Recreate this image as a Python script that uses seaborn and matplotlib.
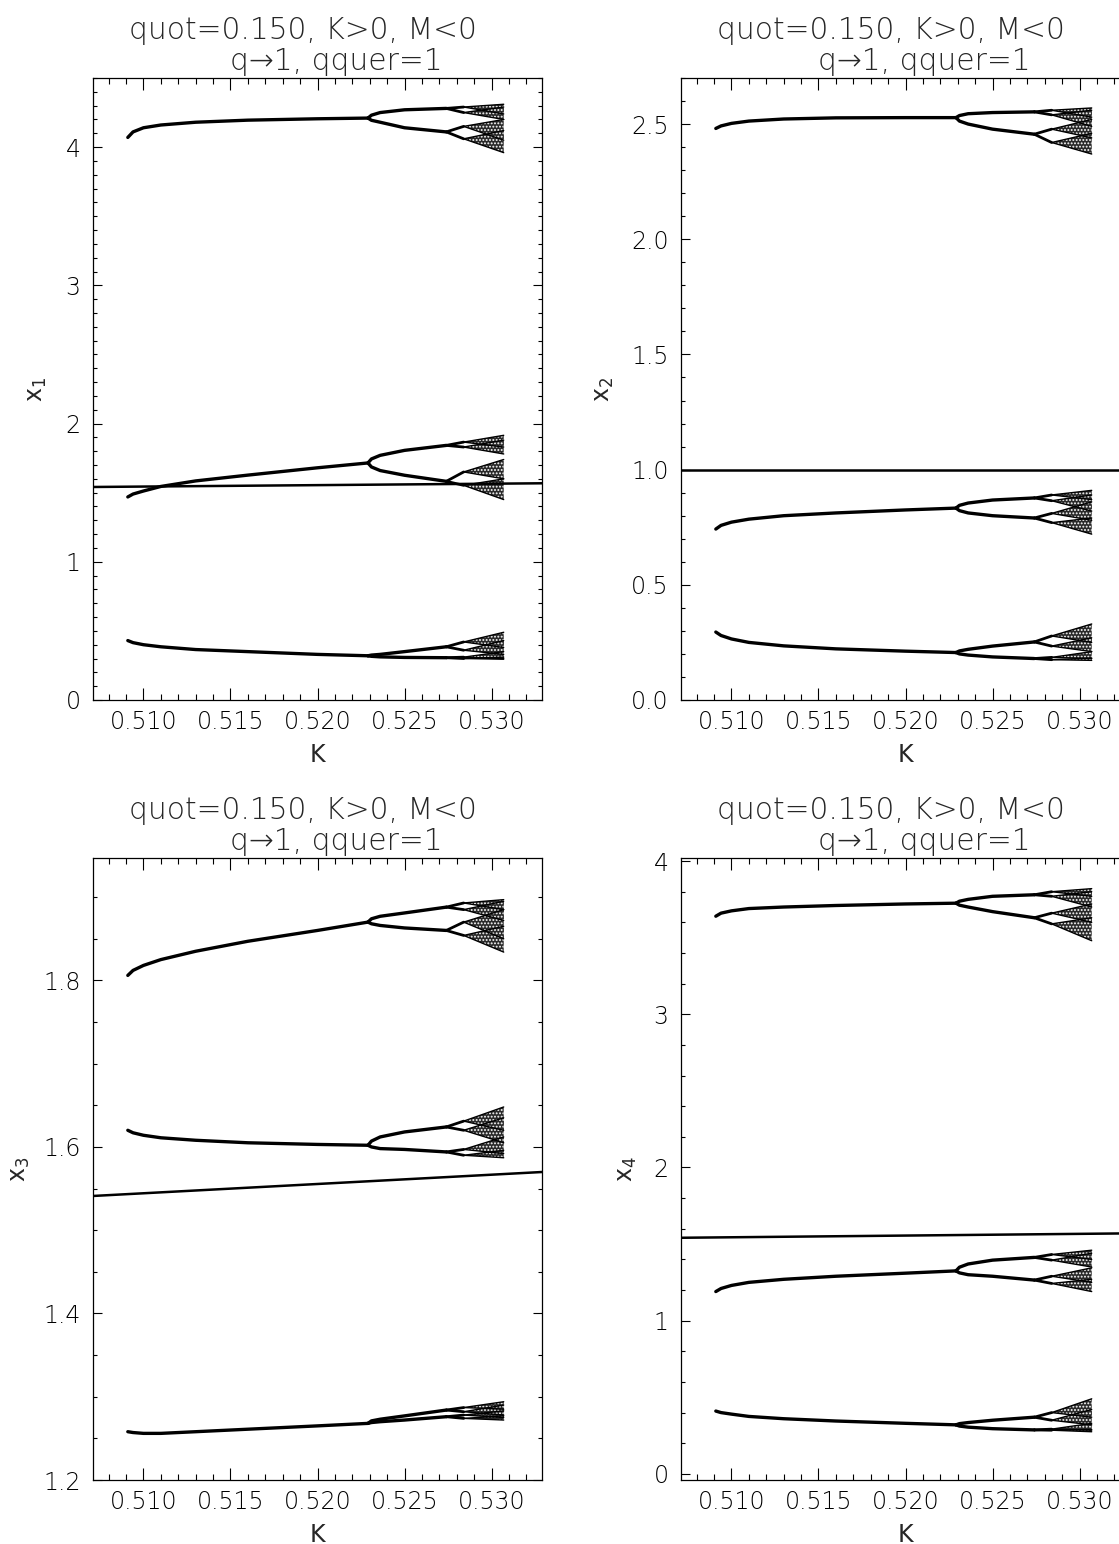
import matplotlib
matplotlib.use('Agg')
import matplotlib.pyplot as plt
from matplotlib.ticker import MultipleLocator, FormatStrFormatter
import seaborn as sns

K_P1 = [0.5091, 0.5094, 0.5100, 0.5110, 0.5130, 0.5160, 0.5200, 0.5229]
K_P2 = [0.5229, 0.5231, 0.5236, 0.5250, 0.5274]
K_P4 = [0.5274, 0.5284]
K_CHAOS = [0.5284, 0.5307]
K_LINE = [0.5070, 0.5330]

TITLE_1 = 'quot=0.150, K>0, M<0'
TITLE_2 = 'q\u21921, qquer=1'

# ---- x1 ----
X1_P1 = [[4.07, 4.11, 4.14, 4.16, 4.18, 4.195, 4.205, 4.21],
         [1.469, 1.49, 1.512, 1.545, 1.585, 1.627, 1.68, 1.715],
         [0.43, 0.415, 0.40, 0.385, 0.365, 0.35, 0.33, 0.32]]
X1_P2_UP = [[4.21, 4.231, 4.25, 4.27, 4.28], [1.715, 1.744, 1.77, 1.806, 1.842],
            [0.32, 0.325, 0.33, 0.35, 0.385]]
X1_P2_LO = [[4.21, 4.194, 4.18, 4.14, 4.11], [1.715, 1.686, 1.66, 1.626, 1.582],
            [0.32, 0.316, 0.312, 0.308, 0.306]]
X1_P4 = [[4.29, 4.25, 4.15, 4.06], [1.866, 1.83, 1.65, 1.553], [0.42, 0.36, 0.31, 0.30]]
X1_BAND_LO = [[4.24, 4.20, 4.05, 3.96], [1.83, 1.78, 1.60, 1.45], [0.38, 0.33, 0.30, 0.295]]
X1_BAND_HI = [[4.31, 4.29, 4.20, 4.12], [1.915, 1.88, 1.74, 1.60], [0.49, 0.43, 0.35, 0.31]]
X1_LINE = [1.541, 1.568]

# ---- x2 ----
X2_P1 = [[2.481, 2.492, 2.503, 2.513, 2.522, 2.527, 2.528, 2.528],
         [0.742, 0.758, 0.772, 0.785, 0.80, 0.812, 0.825, 0.833],
         [0.295, 0.28, 0.265, 0.25, 0.235, 0.222, 0.212, 0.206]]
X2_P2_UP = [[2.528, 2.537, 2.545, 2.55, 2.553], [0.833, 0.845, 0.855, 0.868, 0.877],
            [0.206, 0.213, 0.22, 0.234, 0.252]]
X2_P2_LO = [[2.528, 2.513, 2.50, 2.478, 2.456], [0.833, 0.822, 0.812, 0.80, 0.79],
            [0.206, 0.200, 0.195, 0.187, 0.18]]
X2_P4 = [[2.56, 2.54, 2.478, 2.42], [0.89, 0.865, 0.81, 0.77], [0.278, 0.234, 0.185, 0.175]]
X2_BAND_LO = [[2.53, 2.49, 2.44, 2.37], [0.87, 0.82, 0.78, 0.72], [0.25, 0.21, 0.18, 0.172]]
X2_BAND_HI = [[2.57, 2.56, 2.52, 2.46], [0.91, 0.89, 0.86, 0.79], [0.33, 0.27, 0.21, 0.182]]
X2_LINE = [1.0, 1.0]

# ---- x3 ----
X3_P1 = [[1.806, 1.812, 1.818, 1.825, 1.835, 1.847, 1.86, 1.87],
         [1.620, 1.617, 1.614, 1.611, 1.608, 1.605, 1.603, 1.602],
         [1.258, 1.257, 1.256, 1.256, 1.258, 1.261, 1.265, 1.268]]
X3_P2_UP = [[1.87, 1.874, 1.877, 1.881, 1.888], [1.602, 1.607, 1.612, 1.618, 1.624],
            [1.268, 1.271, 1.273, 1.277, 1.284]]
X3_P2_LO = [[1.87, 1.868, 1.866, 1.863, 1.86], [1.602, 1.600, 1.598, 1.597, 1.594],
            [1.268, 1.269, 1.27, 1.272, 1.276]]
X3_P4 = [[1.893, 1.885, 1.87, 1.854], [1.631, 1.62, 1.597, 1.59], [1.287, 1.282, 1.278, 1.274]]
X3_BAND_LO = [[1.885, 1.872, 1.85, 1.834], [1.62, 1.605, 1.592, 1.587], [1.285, 1.278, 1.275, 1.272]]
X3_BAND_HI = [[1.897, 1.895, 1.885, 1.865], [1.648, 1.635, 1.612, 1.596], [1.294, 1.29, 1.283, 1.277]]
X3_LINE = [1.541, 1.570]

# ---- x4 ----
X4_P1 = [[3.64, 3.66, 3.675, 3.69, 3.70, 3.71, 3.72, 3.725],
         [1.19, 1.21, 1.23, 1.25, 1.27, 1.29, 1.31, 1.325],
         [0.41, 0.40, 0.39, 0.375, 0.36, 0.345, 0.33, 0.32]]
X4_P2_UP = [[3.725, 3.738, 3.75, 3.77, 3.78], [1.325, 1.349, 1.37, 1.395, 1.413],
            [0.32, 0.328, 0.335, 0.35, 0.37]]
X4_P2_LO = [[3.725, 3.712, 3.70, 3.67, 3.63], [1.325, 1.312, 1.30, 1.29, 1.265],
            [0.32, 0.312, 0.305, 0.295, 0.287]]
X4_P4 = [[3.80, 3.77, 3.66, 3.59], [1.432, 1.395, 1.29, 1.243], [0.40, 0.35, 0.292, 0.285]]
X4_BAND_LO = [[3.77, 3.70, 3.60, 3.48], [1.40, 1.35, 1.25, 1.19], [0.37, 0.32, 0.285, 0.275]]
X4_BAND_HI = [[3.82, 3.80, 3.72, 3.63], [1.46, 1.44, 1.345, 1.27], [0.49, 0.42, 0.33, 0.29]]
X4_LINE = [1.541, 1.570]

sns.set_style('ticks')
plt.rcParams['font.family'] = ['DejaVu Sans']
plt.rcParams['font.weight'] = 'light'
plt.rcParams['mathtext.default'] = 'regular'
plt.rcParams['hatch.linewidth'] = 0.9

W, H = 1119, 1544
fig = plt.figure(figsize=(W / 100, H / 100), dpi=100)


def add_ax(left_px, top_px):
    return fig.add_axes([left_px / W, (H - top_px - 622) / H, 449 / W, 622 / H])


def draw(ax, p1, p2u, p2l, p4, blo, bhi, line, ylim, ymaj, ymin, yfmt, ylab, ylab_x):
    kw = dict(ax=ax, color='black', estimator=None, sort=False, legend=False)
    sns.lineplot(x=K_LINE, y=line, lw=1.8, **kw)
    for i in range(3):
        sns.lineplot(x=K_P1, y=p1[i], lw=2.4, **kw)
        sns.lineplot(x=K_P2, y=p2u[i], lw=2.4, **kw)
        sns.lineplot(x=K_P2, y=p2l[i], lw=2.4, **kw)
        ends = [p2u[i][-1], p2u[i][-1], p2l[i][-1], p2l[i][-1]]
        for j in range(4):
            sns.lineplot(x=K_P4, y=[ends[j], p4[i][j]], lw=2.0, **kw)
            v = p4[i][j]
            # chaotic band: dark stipple with light speckles
            ax.fill_between(K_CHAOS, [v, blo[i][j]], [v, bhi[i][j]],
                            facecolor='#2a2a2a', edgecolor='white', hatch='.....', linewidth=0)
            sns.lineplot(x=K_CHAOS, y=[v, blo[i][j]], lw=1.0, **kw)
            sns.lineplot(x=K_CHAOS, y=[v, bhi[i][j]], lw=1.0, **kw)

    ax.set_xlim(0.5071, 0.5329)
    ax.set_ylim(*ylim)
    ax.xaxis.set_major_locator(MultipleLocator(0.005))
    ax.xaxis.set_minor_locator(MultipleLocator(0.001))
    ax.xaxis.set_major_formatter(FormatStrFormatter('%.3f'))
    ax.yaxis.set_major_locator(MultipleLocator(ymaj))
    ax.yaxis.set_minor_locator(MultipleLocator(ymin))
    ax.yaxis.set_major_formatter(FormatStrFormatter(yfmt))
    ax.tick_params(axis='both', which='both', direction='in', top=True, right=True,
                   labelsize=17, width=0.8, colors='black')
    ax.tick_params(axis='x', which='major', length=8.5, pad=7.5)
    ax.tick_params(axis='x', which='minor', length=4.3)
    ax.tick_params(axis='y', which='major', length=6.5, pad=9)
    ax.tick_params(axis='y', which='minor', length=3.0)
    for s in ax.spines.values():
        s.set_linewidth(0.9)
        s.set_color('black')

    ax.set_xlabel('K', fontsize=17, va='center')
    ax.xaxis.set_label_coords(0.5, -0.088)
    ax.set_ylabel(ylab, fontsize=17, va='center', ha='center')
    ax.yaxis.set_label_coords(ylab_x, 0.5)

    ax.text(0.468, 1.063, TITLE_1, transform=ax.transAxes, fontsize=21.4,
            ha='center', va='baseline')
    ax.text(0.543, 1.013, TITLE_2, transform=ax.transAxes, fontsize=21.4,
            ha='center', va='baseline')


ax1 = add_ax(93, 78)
draw(ax1, X1_P1, X1_P2_UP, X1_P2_LO, X1_P4, X1_BAND_LO, X1_BAND_HI, X1_LINE,
     (0, 4.5), 1, 0.1, '%d', r'$x_1$', -56 / 449)

ax2 = add_ax(681, 78)
draw(ax2, X2_P1, X2_P2_UP, X2_P2_LO, X2_P4, X2_BAND_LO, X2_BAND_HI, X2_LINE,
     (0, 2.7), 0.5, 0.1, '%.1f', r'$x_2$', -77 / 449)

ax3 = add_ax(93, 858)
draw(ax3, X3_P1, X3_P2_UP, X3_P2_LO, X3_P4, X3_BAND_LO, X3_BAND_HI, X3_LINE,
     (1.2, 1.947), 0.2, 0.05, '%.1f', r'$x_3$', -73 / 449)

ax4 = add_ax(681, 858)
draw(ax4, X4_P1, X4_P2_UP, X4_P2_LO, X4_P4, X4_BAND_LO, X4_BAND_HI, X4_LINE,
     (-0.04, 4.02), 1, 0.2, '%d', r'$x_4$', -54 / 449)

fig.savefig('out.png', dpi=100, facecolor='white')
